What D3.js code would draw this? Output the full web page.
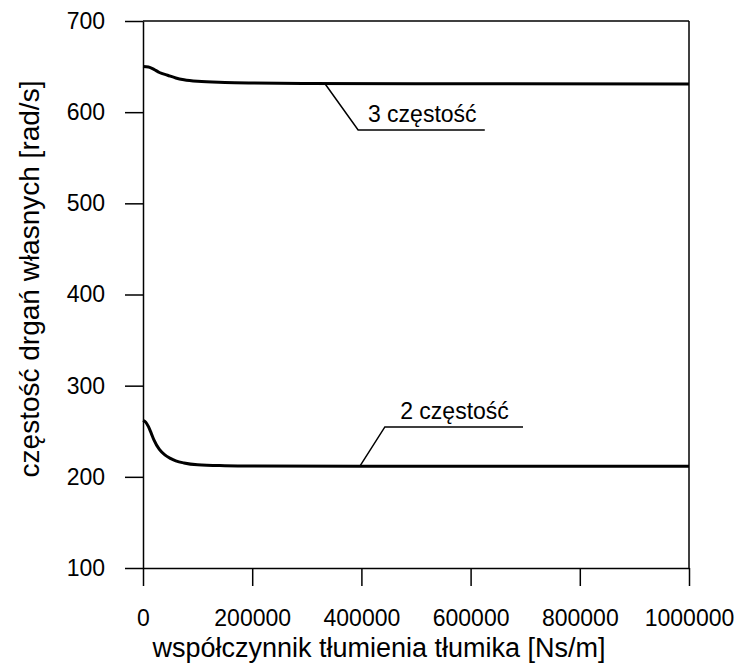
<!DOCTYPE html>
<html>
<head>
<meta charset="utf-8">
<script src="https://d3js.org/d3.v7.min.js"></script>
<style>
  body { margin: 0; background: #fff; }
  text { font-family: "Liberation Sans", Arial, sans-serif; fill: #000; }
  .axis path, .axis line { stroke: #000; stroke-width: 1.5px; }
</style>
</head>
<body>
<div id="chart"></div>
<script>
//Chart data
var xTicks = [0, 200000, 400000, 600000, 800000, 1000000]
var yTicks = [100, 200, 300, 400, 500, 600, 700]

//3rd natural frequency [damping, rad/s]
var freq3 = [
  [0, 650], [10000, 649.5], [20000, 647], [30000, 643.5], [45000, 640.5],
  [60000, 637.5], [75000, 635.5], [100000, 633.8], [150000, 632.6],
  [200000, 632], [300000, 631.5], [500000, 631.2], [1000000, 631]
]

//2nd natural frequency
var freq2 = [
  [0, 262], [5000, 260], [10000, 255], [15000, 248], [20000, 240.5],
  [30000, 230], [40000, 224], [50000, 220.3], [60000, 217.6], [75000, 215.2],
  [100000, 213.2], [150000, 212.2], [200000, 211.8], [400000, 211.5], [1000000, 211.5]
]

//Labels with leader lines: point on curve, elbow, end of underline
var labels = [
  {text: "3 częstość", curve: [333000, 631.5], elbow: [394000, 580.4], end: [626000, 580.4], textAt: [412000, 589]},
  {text: "2 częstość", curve: [397000, 211.5], elbow: [443000, 254.7], end: [696000, 254.7], textAt: [471000, 263.5]}
]

var width = 741, height = 666
var margin = {top: 21, left: 143, right: 52, bottom: 98}
var w = width - margin.left - margin.right
var h = height - margin.top - margin.bottom

var svg = d3.select("#chart").append("svg")
  .attr("width", width)
  .attr("height", height)

var g = svg.append("g")
  .attr("transform", "translate(" + margin.left + "," + margin.top + ")")

var x = d3.scaleLinear().domain([0, 1000000]).range([0, w])
var y = d3.scaleLinear().domain([100, 700]).range([h, 0])

//Axes
g.append("g")
  .attr("class", "axis")
  .call(d3.axisLeft(y).tickValues(yTicks).tickSize(18).tickSizeOuter(0).tickPadding(20).tickFormat(d3.format("d")))
  .selectAll("text")
  .style("font-size", "23px")

g.append("g")
  .attr("class", "axis")
  .attr("transform", "translate(0," + h + ")")
  .call(d3.axisBottom(x).tickValues(xTicks).tickSize(18).tickSizeOuter(0).tickPadding(24).tickFormat(d3.format("d")))
  .selectAll("text")
  .style("font-size", "23px")

//Frame: top and right
g.append("line")
  .attr("x1", 0).attr("x2", w).attr("y1", 0).attr("y2", 0)
  .attr("stroke", "#000").attr("stroke-width", 1.5)
g.append("line")
  .attr("x1", w).attr("x2", w).attr("y1", 0).attr("y2", h)
  .attr("stroke", "#000").attr("stroke-width", 1.5)

//Curves
var line = d3.line()
  .x(function(d) { return x(d[0]) })
  .y(function(d) { return y(d[1]) })
  .curve(d3.curveMonotoneX)

;[freq3, freq2].forEach(function(s) {
  g.append("path")
    .datum(s)
    .attr("d", line)
    .attr("fill", "none")
    .attr("stroke", "#000")
    .attr("stroke-width", 3)
})

//Annotations
labels.forEach(function(l) {
  g.append("polyline")
    .attr("points", [l.curve, l.elbow, l.end].map(function(p) { return x(p[0]) + "," + y(p[1]) }).join(" "))
    .attr("fill", "none")
    .attr("stroke", "#000")
    .attr("stroke-width", 1.5)
  g.append("text")
    .attr("x", x(l.textAt[0]))
    .attr("y", y(l.textAt[1]))
    .style("font-size", "23px")
    .text(l.text)
})

//Axis titles
svg.append("text")
  .attr("x", 379)
  .attr("y", 657)
  .attr("text-anchor", "middle")
  .style("font-size", "27px")
  .text("współczynnik tłumienia tłumika [Ns/m]")

svg.append("text")
  .attr("transform", "translate(39,279) rotate(-90)")
  .attr("text-anchor", "middle")
  .style("font-size", "28px")
  .text("częstość drgań własnych [rad/s]")
</script>
</body>
</html>
